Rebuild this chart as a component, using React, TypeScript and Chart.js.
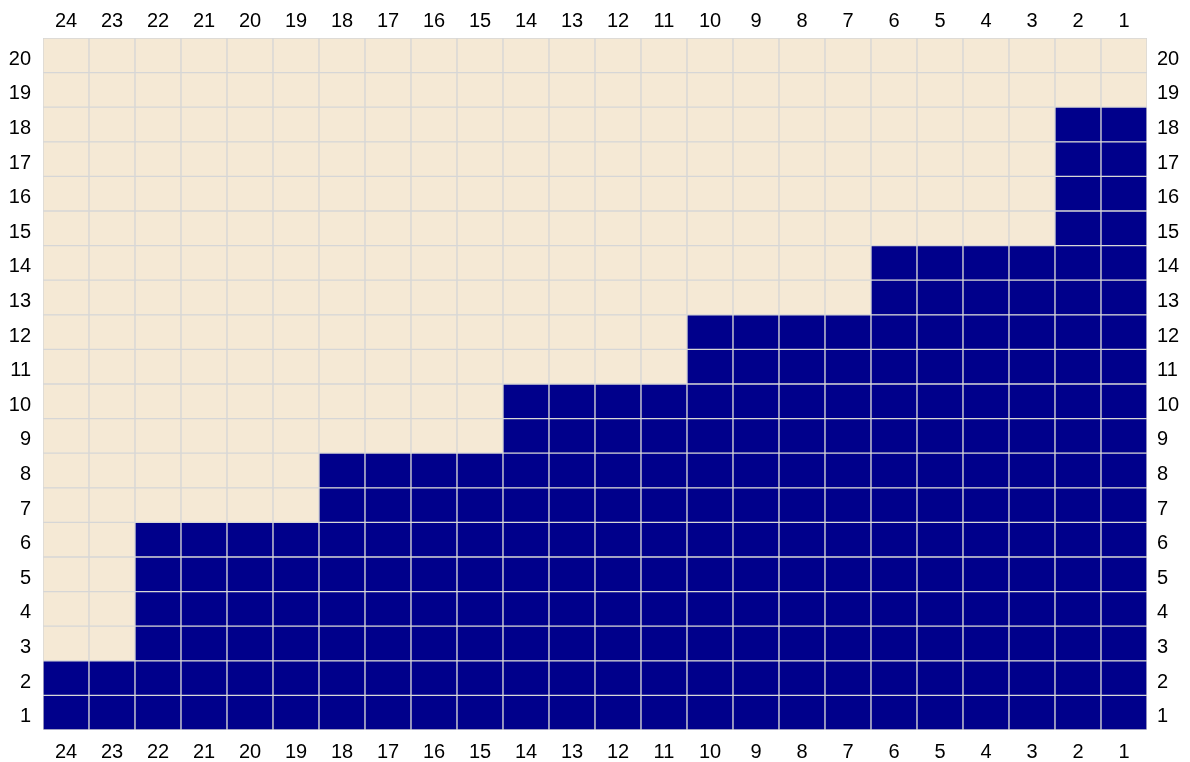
import React, { useEffect, useRef } from "react";
import { Chart, registerables } from "chart.js";

Chart.register(...registerables);

const columnLabels = ["24", "23", "22", "21", "20", "19", "18", "17", "16", "15", "14", "13", "12", "11", "10", "9", "8", "7", "6", "5", "4", "3", "2", "1"];
const columnHeights = [2, 2, 6, 6, 6, 6, 8, 8, 8, 8, 10, 10, 10, 10, 12, 12, 12, 12, 14, 14, 14, 14, 18, 18];
const rowLabels = ["20", "19", "18", "17", "16", "15", "14", "13", "12", "11", "10", "9", "8", "7", "6", "5", "4", "3", "2", "1"];
const rowCount = 20;

const FILL = "#00008B";
const EMPTY = "#F5E9D5";
const LINE = "#D6D6D6";

export default function App() {
  const ref = useRef<HTMLCanvasElement | null>(null);

  useEffect(() => {
    if (!ref.current) return;
    const datasets = [];
    for (let r = 1; r <= rowCount; r++) {
      datasets.push({
        label: "row " + r,
        data: columnHeights.map(() => 1),
        backgroundColor: columnHeights.map((h) => (h >= r ? FILL : EMPTY)),
        borderColor: LINE,
        borderWidth: 1,
        borderSkipped: false as const,
        barPercentage: 1,
        categoryPercentage: 1,
        stack: "s",
        xAxisID: "x",
        yAxisID: "y",
      });
    }
    const font = { family: "'Liberation Sans', Arial, sans-serif", size: 20 };
    const grid = { display: false, drawTicks: false };
    const chart = new Chart(ref.current, {
      type: "bar",
      data: { labels: columnLabels, datasets },
      options: {
        animation: false,
        responsive: false,
        maintainAspectRatio: false,
        layout: { padding: 0 },
        plugins: { legend: { display: false }, tooltip: { enabled: false } },
        scales: {
          x: {
            type: "category",
            position: "bottom",
            stacked: true,
            grid,
            border: { display: false },
            ticks: { color: "#000", font, padding: 10, maxRotation: 0, autoSkip: false },
            afterFit: (s: any) => { s.height = 32; },
          },
          xTop: {
            type: "category",
            position: "top",
            labels: columnLabels,
            grid,
            border: { display: false },
            ticks: { color: "#000", font, padding: 5, maxRotation: 0, autoSkip: false },
            afterFit: (s: any) => { s.height = 38; },
          },
          y: {
            type: "linear",
            stacked: true,
            min: 0,
            max: rowCount,
            display: false,
          },
          yLeft: {
            type: "category",
            position: "left",
            labels: rowLabels,
            offset: true,
            grid,
            border: { display: false },
            ticks: { color: "#000", font, padding: 12, labelOffset: 4, autoSkip: false },
            afterFit: (s: any) => { s.width = 43; },
          },
          yRight: {
            type: "category",
            position: "right",
            labels: rowLabels,
            offset: true,
            grid,
            border: { display: false },
            ticks: { color: "#000", font, padding: 10, labelOffset: 4, autoSkip: false },
            afterFit: (s: any) => { s.width = 43; },
          },
        },
      } as any,
    });
    return () => chart.destroy();
  }, []);

  return (
    <div style={{ position: "absolute", left: 0, top: 0, width: 1190, height: 762, background: "#fff" }}>
      <canvas ref={ref} width={1190} height={762} style={{ display: "block" }} />
    </div>
  );
}
